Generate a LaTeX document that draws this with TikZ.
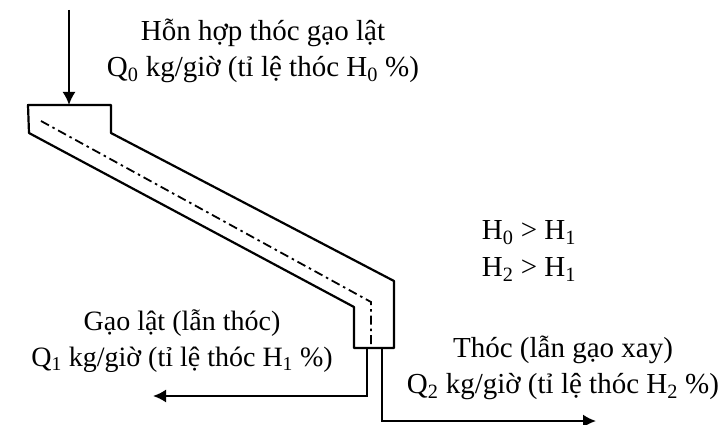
\documentclass[tikz,border=0pt]{standalone}
\usepackage{fontspec}
\setmainfont{Liberation Serif}
\usetikzlibrary{arrows.meta}
\tikzset{
 x=1pt,y=-1pt,
 wall/.style={line width=2.2pt,line join=round},
 flow/.style={line width=2pt,-{Latex[length=13pt,width=13pt]}},
 axis/.style={line width=1.8pt,dash pattern=on 9pt off 4pt on 2.5pt off 4pt},
 lbl/.style={font=\fontsize{29}{36.5}\selectfont,align=center,inner sep=0pt},
 lblsmall/.style={font=\fontsize{28}{36.5}\selectfont,align=center,inner sep=0pt}
}
\newcommand{\sbs}[1]{\textsubscript{#1}}
\begin{document}
\begin{tikzpicture}
\useasboundingbox (0,0) rectangle (722,425);
\coordinate (inA) at (69,10);
\coordinate (inB) at (69,105);
\coordinate (c1) at (41,121);
\coordinate (c2) at (371,302);
\coordinate (c3) at (371,348);
\coordinate (lA) at (367,348);
\coordinate (lB) at (367,396);
\coordinate (lC) at (153,396);
\coordinate (rA) at (382,348);
\coordinate (rB) at (382,421);
\coordinate (rC) at (596,421);
\draw[wall] (28,105) -- (111,105) -- (111,133) -- (394,281) -- (394,348) -- (354,348) -- (354,307) -- (29,133) -- cycle;
\draw[axis] (c1) -- (c2) -- (c3);
\draw[flow] (inA) -- (inB);
\draw[flow] (lA) -- (lB) -- (lC);
\draw[flow] (rA) -- (rB) -- (rC);
\node[lbl] (t0) at (263,51) {Hỗn hợp thóc gạo lật\\Q\sbs{0} kg/giờ (tỉ lệ thóc H\sbs{0} \%)};
\node[lbl] (t1) at (529,251) {H\sbs{0} > H\sbs{1}\\H\sbs{2} > H\sbs{1}};
\node[lblsmall] (t2) at (182,341) {Gạo lật (lẫn thóc)\\Q\sbs{1} kg/giờ (tỉ lệ thóc H\sbs{1} \%)};
\node[lbl] (t3) at (563,368) {Thóc (lẫn gạo xay)\\Q\sbs{2} kg/giờ (tỉ lệ thóc H\sbs{2} \%)};
\end{tikzpicture}
\end{document}
